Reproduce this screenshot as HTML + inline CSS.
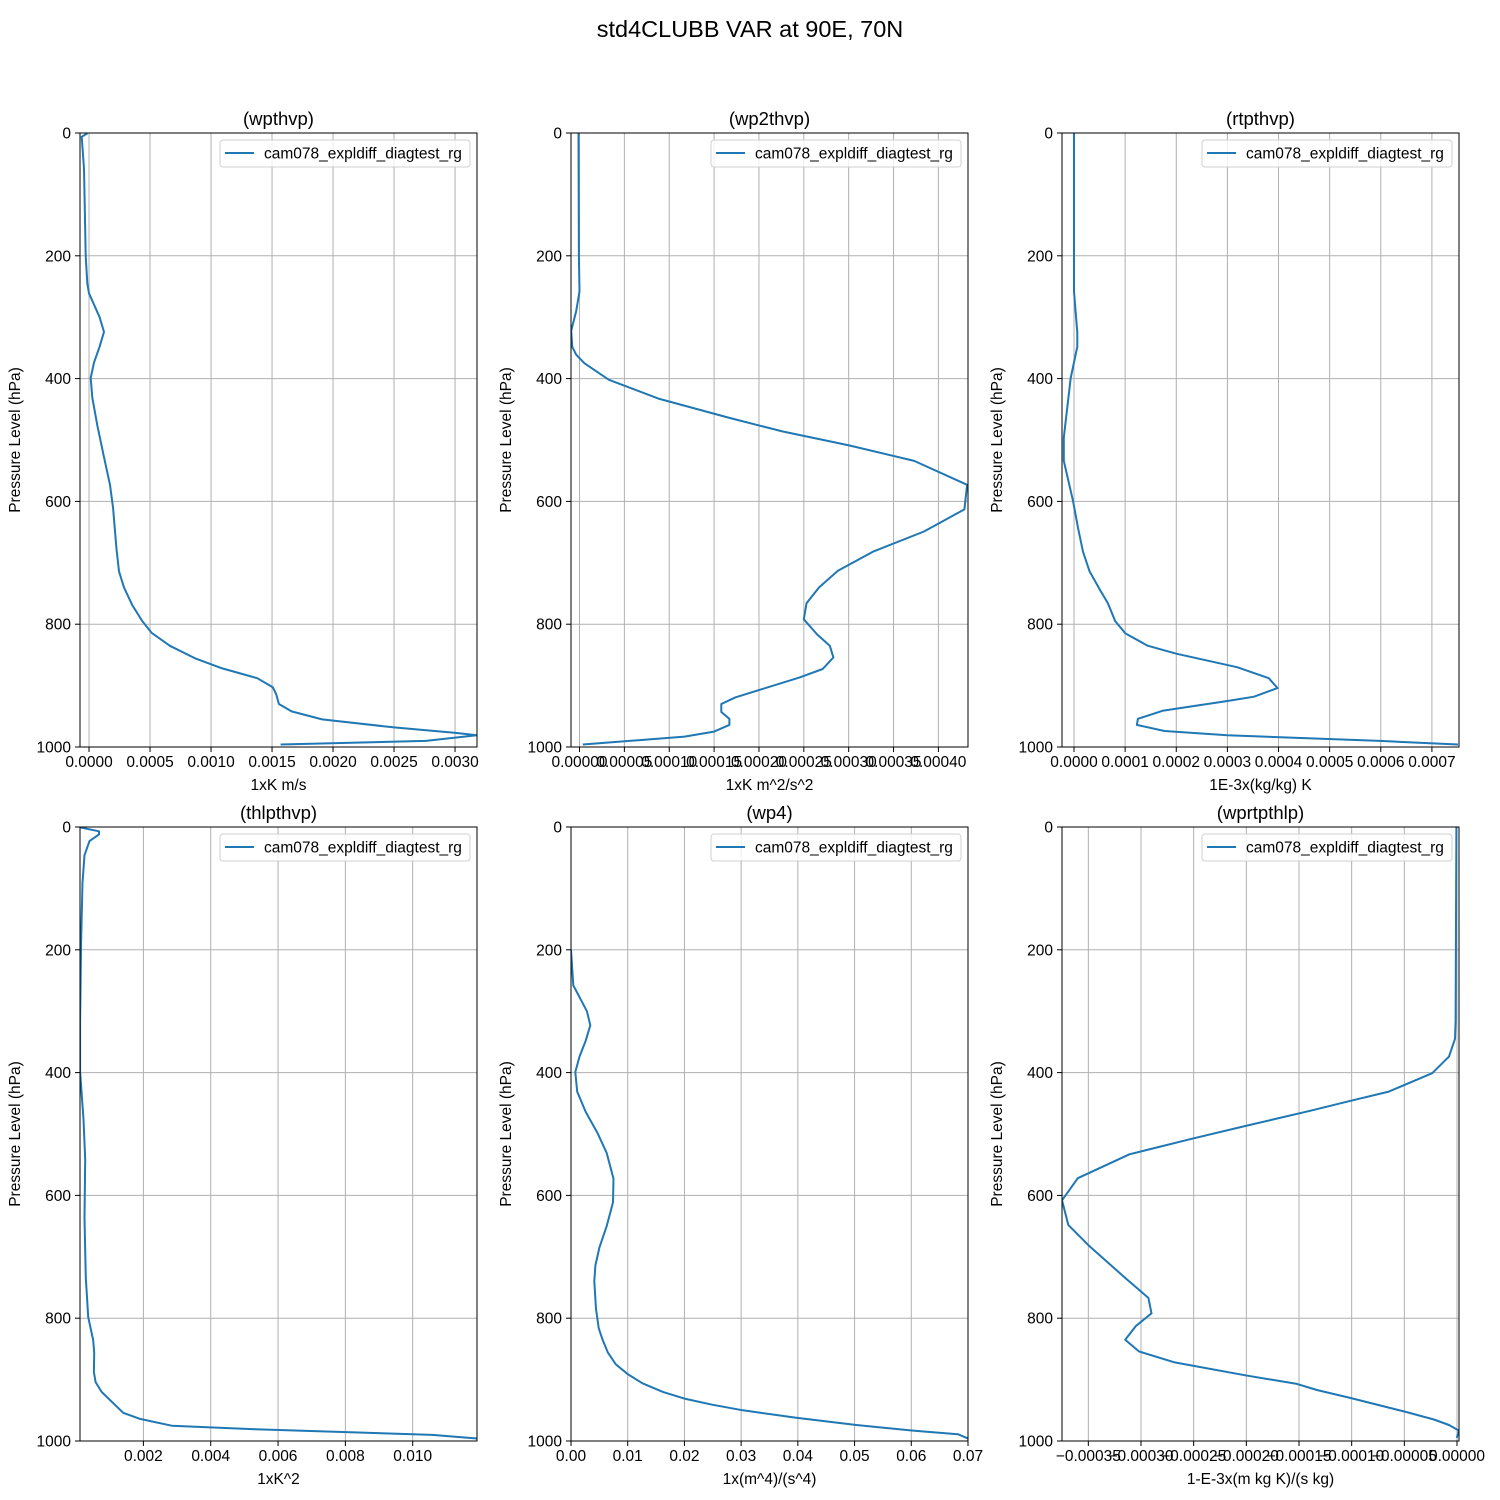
<!DOCTYPE html>
<html><head><meta charset="utf-8">
<style>
body{margin:0;background:#fff;}
svg{display:block;font-family:"Liberation Sans","DejaVu Sans",sans-serif;}
</style></head>
<body>
<svg id="fig" width="1500" height="1500" viewBox="0 0 1500 1500" xmlns="http://www.w3.org/2000/svg">
<rect x="0" y="0" width="1500" height="1500" fill="#fff"/>
<text x="750" y="37" text-anchor="middle" font-size="23.5">std4CLUBB VAR at 90E, 70N</text>
</svg>
<script>
// ---- data ----
const pWpthvp = [0.6,6,58,200,245,261,300,324,348,374,399,431,476,528,573,611,676,714,740,769,795,814,835,856,872,888,903,914,930,942,955,968,977,981,990,996];
const vWpthvp = [-0.0000137,-0.00006,-0.000041,-0.000027,-0.000014,0,0.000087,0.000123,0.000087,0.000041,0.000014,0.000027,0.000068,0.000123,0.000172,0.000197,0.000224,0.000246,0.000287,0.000355,0.000437,0.000513,0.000661,0.000874,0.001092,0.001379,0.001507,0.001534,0.001556,0.00166,0.00191,0.0025,0.003005,0.00318,0.00276,0.00157];
const pWp2thvp = [0.6,200,258,290,322,348,361,375,402,433,464,486,509,534,573,613,649,682,713,740,766,792,817,835,854,873,887,919,930,943,954,964,975,983,996];
const vWp2thvp = [-0.0000011,-0.0000007,0,-0.0000037,-0.0000093,-0.0000082,-0.0000037,0.0000056,0.0000327,0.000089,0.000167,0.000226,0.000301,0.000373,0.000432,0.000429,0.000384,0.000327,0.000288,0.000267,0.000253,0.00025,0.000265,0.000279,0.000283,0.000271,0.000245,0.000174,0.000158,0.000158,0.000167,0.000167,0.00015,0.000117,0.0000037];
const pRtpthvp = [0.6,258,325,348,399,496,534,599,643,682,714,743,766,795,815,835,848,870,888,904,918,925,941,954,964,974,981,990,996];
const vRtpthvp = [0,0,0.0000065,0.0000065,-0.0000065,-0.00002,-0.00002,-0.000002,0.0000078,0.0000175,0.0000305,0.00005,0.0000662,0.0000805,0.0001006,0.000144,0.0002,0.000319,0.000381,0.000398,0.000352,0.0003,0.000173,0.000125,0.000123,0.000177,0.0003,0.000598,0.000751];
const pThlpthvp = [0.6,7,12,23,46,91,187,316,399,476,541,637,734,798,836,856,888,904,920,954,964,975,981,990,996];
const vThlpthvp = [0.00012,0.00068,0.00068,0.0004,0.00025,0.00019,0.00015,0.00012,0.00012,0.00022,0.00027,0.00025,0.00029,0.00036,0.00051,0.00054,0.00053,0.00058,0.00076,0.0014,0.0019,0.00284,0.00532,0.01058,0.01191];
const pWp4 = [200,258,300,323,348,374,399,431,464,499,531,573,611,650,685,714,740,785,817,836,856,875,891,906,920,931,941,950,962,974,983,989,996];
const vWp4 = [0,0.0004,0.0028,0.0034,0.0026,0.0015,0.00076,0.0011,0.0026,0.0047,0.0063,0.0075,0.0074,0.0063,0.005,0.0043,0.0041,0.0044,0.0049,0.0056,0.0065,0.0079,0.01,0.0126,0.0162,0.02,0.025,0.0303,0.0397,0.0503,0.0603,0.0682,0.07];
const pWprtpthlp = [0.6,316,345,374,401,431,446,462,487,507,533,572,608,648,681,736,767,792,813,835,854,872,893,907,917,930,952,965,974,983,995];
const vWprtpthlp = [-0.0000006,-0.0000013,-0.0000019,-0.0000076,-0.0000235,-0.0000647,-0.000101,-0.000139,-0.000201,-0.00025,-0.000311,-0.00036,-0.000375,-0.000369,-0.00035,-0.000314,-0.000293,-0.00029,-0.000305,-0.000315,-0.000302,-0.000268,-0.000201,-0.000152,-0.000133,-0.000101,-0.00005,-0.0000219,-0.0000076,0.0000019,-0.0000003];

const yTicks = [0,200,400,600,800,1000];
const ticks1 = [0,0.0005,0.001,0.0015,0.002,0.0025,0.003];
const labels1 = ["0.0000","0.0005","0.0010","0.0015","0.0020","0.0025","0.0030"];
const ticks2 = [0,0.00005,0.0001,0.00015,0.0002,0.00025,0.0003,0.00035,0.0004];
const labels2 = ["0.00000","0.00005","0.00010","0.00015","0.00020","0.00025","0.00030","0.00035","0.00040"];
const ticks3 = [0,0.0001,0.0002,0.0003,0.0004,0.0005,0.0006,0.0007];
const labels3 = ["0.0000","0.0001","0.0002","0.0003","0.0004","0.0005","0.0006","0.0007"];
const ticks4 = [0.002,0.004,0.006,0.008,0.01];
const labels4 = ["0.002","0.004","0.006","0.008","0.010"];
const ticks5 = [0,0.01,0.02,0.03,0.04,0.05,0.06,0.07];
const labels5 = ["0.00","0.01","0.02","0.03","0.04","0.05","0.06","0.07"];
const ticks6 = [-0.00035,-0.0003,-0.00025,-0.0002,-0.00015,-0.0001,-0.00005,0];
const labels6 = ["\u22120.00035","\u22120.00030","\u22120.00025","\u22120.00020","\u22120.00015","\u22120.00010","\u22120.00005","0.00000"];

const NS = "http://www.w3.org/2000/svg";
const svg = document.getElementById('fig');
function mk(tag, attrs, parent){const e=document.createElementNS(NS,tag);for(const k in attrs)e.setAttribute(k,attrs[k]);(parent||svg).appendChild(e);return e;}

const panels = [
 {id:'wpthvp', title:'(wpthvp)', xl:'1xK m/s', x0:80, y0:133, xmin:-0.000074, xmax:0.00318, p:pWpthvp, v:vWpthvp, t:ticks1, l:labels1},
 {id:'wp2thvp', title:'(wp2thvp)', xl:'1xK m^2/s^2', x0:571, y0:133, xmin:-0.0000095, xmax:0.000433, p:pWp2thvp, v:vWp2thvp, t:ticks2, l:labels2},
 {id:'rtpthvp', title:'(rtpthvp)', xl:'1E-3x(kg/kg) K', x0:1062, y0:133, xmin:-0.0000235, xmax:0.000753, p:pRtpthvp, v:vRtpthvp, t:ticks3, l:labels3},
 {id:'thlpthvp', title:'(thlpthvp)', xl:'1xK^2', x0:80, y0:827, xmin:0.000117, xmax:0.01191, p:pThlpthvp, v:vThlpthvp, t:ticks4, l:labels4},
 {id:'wp4', title:'(wp4)', xl:'1x(m^4)/(s^4)', x0:571, y0:827, xmin:0, xmax:0.07, p:pWp4, v:vWp4, t:ticks5, l:labels5},
 {id:'wprtpthlp', title:'(wprtpthlp)', xl:'1-E-3x(m kg K)/(s kg)', x0:1062, y0:827, xmin:-0.000375, xmax:0.0000019, p:pWprtpthlp, v:vWprtpthlp, t:ticks6, l:labels6}
];
const W=397, H=614, FS=15.5;

panels.forEach(P=>{
  const g = mk('g',{});
  
  
  const xs = v => P.x0 + (v-P.xmin)/(P.xmax-P.xmin)*W;
  const ys = p => P.y0 + p/1000*H;
  P.t.forEach((tv,i)=>{
    const x = xs(tv);
    const gl = mk('line',{x1:x,x2:x,y1:P.y0,y2:P.y0+H,stroke:'#b0b0b0','stroke-width':1},g);
    
    
    const tk = mk('line',{x1:x,x2:x,y1:P.y0+H,y2:P.y0+H+5,stroke:'#000','stroke-width':1},g);
    
    
    const tl = mk('text',{x:x,y:P.y0+H+20,'text-anchor':'middle','font-size':FS},g);
    
    
    tl.textContent = P.l[i];
  });
  yTicks.forEach(pv=>{
    const y = ys(pv);
    if(pv>0 && pv<1000){
      const gl = mk('line',{x1:P.x0,x2:P.x0+W,y1:y,y2:y,stroke:'#b0b0b0','stroke-width':1},g);
      
      
    }
    const tk = mk('line',{x1:P.x0-5,x2:P.x0,y1:y,y2:y,stroke:'#000','stroke-width':1},g);
    
    
    const tl = mk('text',{x:P.x0-9,y:y+5.5,'text-anchor':'end','font-size':FS},g);
    
    
    tl.textContent = pv;
  });
  const pts = P.v.map((v,i)=>xs(v).toFixed(1)+','+ys(P.p[i]).toFixed(1)).join(' ');
  const clipId = 'clip-'+P.id;
  const cp = mk('clipPath',{id:clipId},g);
  mk('rect',{x:P.x0,y:P.y0,width:W,height:H},cp);
  const line = mk('polyline',{points:pts,fill:'none',stroke:'#1f77b4','stroke-width':2,'stroke-linejoin':'round','clip-path':'url(#'+clipId+')'},g);
  
  
  const fr = mk('rect',{x:P.x0,y:P.y0,width:W,height:H,fill:'none',stroke:'#000','stroke-width':1},g);
  
  
  const tt = mk('text',{x:P.x0+W/2,y:P.y0-8,'text-anchor':'middle','font-size':18.5},g);
  
  
  tt.textContent = P.title;
  const xl = mk('text',{x:P.x0+W/2,y:P.y0+H+43,'text-anchor':'middle','font-size':FS},g);
  
  
  xl.textContent = P.xl;
  const yx = P.x0-60, yy = P.y0+H/2;
  const yl = mk('text',{x:yx,y:yy,'text-anchor':'middle','font-size':FS,transform:'rotate(-90 '+yx+' '+yy+')'},g);
  
  
  yl.textContent = 'Pressure Level (hPa)';
  const lg = mk('g',{},g);
  
  
  mk('rect',{x:P.x0+W-257,y:P.y0+7,width:250,height:27,rx:3,fill:'#fff','fill-opacity':0.8,stroke:'#d0d0d0','stroke-width':1},lg);
  const ls = mk('line',{x1:P.x0+W-252,x2:P.x0+W-223,y1:P.y0+20,y2:P.y0+20,stroke:'#1f77b4','stroke-width':2},lg);
  
  
  const lt = mk('text',{x:P.x0+W-213,y:P.y0+25.5,'font-size':FS},lg);
  
  
  lt.textContent = 'cam078_expldiff_diagtest_rg';
});
</script>
</body></html>
